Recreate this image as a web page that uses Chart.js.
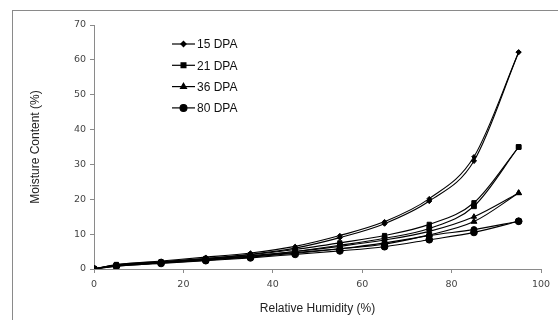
<!DOCTYPE html>
<html>
<head>
<meta charset="utf-8">
<script src="https://cdn.jsdelivr.net/npm/chart.js@4"></script>
<style>
  html, body { margin: 0; padding: 0; background: #fff; }
  #wrap { width: 558px; height: 320px; position: relative; }
</style>
</head>
<body>
<div id="wrap"><canvas id="myChart" width="558" height="320"></canvas></div>
<script>
// relative humidity (%) of each sample point
var rh = [0, 5, 15, 25, 35, 45, 55, 65, 75, 85, 95];
var seriesNames = ['15 DPA', '21 DPA', '36 DPA', '80 DPA'];

// moisture content (%) - adsorption and desorption branch per stage
var dpa15Ads = [0, 1.0, 2.0, 3.0, 4.2, 6.0, 9.0, 13.0, 19.5, 31.0, 62.2];
var dpa15Des = [0, 1.2, 2.3, 3.4, 4.6, 6.5, 9.6, 13.6, 20.2, 32.2, 62.2];
var dpa21Ads = [0, 1.0, 1.8, 2.7, 3.7, 5.0, 6.8, 8.8, 11.6, 18.0, 35.0];
var dpa21Des = [0, 1.3, 2.1, 3.0, 4.1, 5.6, 7.5, 9.6, 12.8, 19.0, 35.0];
var dpa36Ads = [0, 0.8, 1.7, 2.5, 3.4, 4.5, 5.8, 7.5, 9.8, 13.6, 21.8];
var dpa36Des = [0, 1.1, 2.0, 2.8, 3.8, 5.0, 6.5, 8.3, 10.8, 15.0, 21.8];
var dpa80Ads = [0, 0.8, 1.6, 2.4, 3.2, 4.2, 5.2, 6.4, 8.4, 10.5, 13.7];
var dpa80Des = [0, 1.0, 1.9, 2.7, 3.6, 4.7, 5.8, 7.1, 9.6, 11.3, 13.7];

var xTicks = [0, 20, 40, 60, 80, 100];
var yTicks = [0, 10, 20, 30, 40, 50, 60, 70];

function pts(ys) {
  return rh.map(function (x, i) { return { x: x, y: ys[i] }; });
}

function makeSet(label, ys, style, radius, hidden) {
  return {
    label: label,
    data: pts(ys),
    borderColor: '#000',
    backgroundColor: '#000',
    borderWidth: 1.1,
    pointStyle: style,
    pointRadius: radius,
    pointBorderWidth: 1,
    cubicInterpolationMode: 'monotone',
    legendHide: hidden
  };
}

var datasets = [
  makeSet(seriesNames[0], dpa15Ads, 'rectRot', 2.6, false),
  makeSet(seriesNames[1], dpa21Ads, 'rect', 3.4, false),
  makeSet(seriesNames[2], dpa36Ads, 'triangle', 3.4, false),
  makeSet(seriesNames[3], dpa80Ads, 'circle', 3.4, false),
  makeSet(seriesNames[0] + ' des', dpa15Des, 'rectRot', 2.2, true),
  makeSet(seriesNames[1] + ' des', dpa21Des, 'rect', 3.0, true),
  makeSet(seriesNames[2] + ' des', dpa36Des, 'triangle', 3.0, true),
  makeSet(seriesNames[3] + ' des', dpa80Des, 'circle', 3.0, true)
];

// frame around the whole chart + legend drawn inside the plot
var framePlugin = {
  id: 'frame',
  beforeDraw: function (chart) {
    var c = chart.ctx;
    c.save();
    c.fillStyle = '#fff';
    c.fillRect(0, 0, chart.width, chart.height);
    c.strokeStyle = '#8a8a8a';
    c.lineWidth = 1;
    c.strokeRect(12.5, 10.5, 700, 500);
    c.restore();
  },
  afterDraw: function (chart) {
    var c = chart.ctx;
    var x0 = 172, x1 = 195, y = 44, step = 21.3;
    c.save();
    c.font = '12px "Liberation Sans", Arial, sans-serif';
    c.textBaseline = 'middle';
    chart.data.datasets.forEach(function (ds) {
      if (ds.legendHide) return;
      c.strokeStyle = '#000';
      c.lineWidth = 1.2;
      c.beginPath();
      c.moveTo(x0, y);
      c.lineTo(x1, y);
      c.stroke();
      c.fillStyle = '#000';
      Chart.helpers.drawPoint(c, {
        pointStyle: ds.pointStyle, radius: ds.pointRadius, rotation: 0, borderWidth: 1
      }, (x0 + x1) / 2, y);
      c.fillStyle = '#111';
      c.fillText(ds.label, x1 + 2, y + 1);
      y += step;
    });
    c.restore();
  }
};

var ctx = document.getElementById('myChart').getContext('2d');
var chart = new Chart(ctx, {
  type: 'line',
  data: { datasets: datasets },
  plugins: [framePlugin],
  options: {
    responsive: false,
    animation: false,
    layout: { padding: { top: 25, right: 17, left: 0, bottom: 0 } },
    plugins: { legend: { display: false }, tooltip: { enabled: false } },
    scales: {
      x: {
        type: 'linear',
        min: 0, max: 100,
        afterBuildTicks: function (s) { s.ticks = xTicks.map(function (v) { return { value: v }; }); },
        afterFit: function (s) { s.height = 51; },
        grid: { drawOnChartArea: false, color: '#8a8a8a', tickLength: 4 },
        border: { color: '#8a8a8a' },
        ticks: { color: '#444', font: { family: '"DejaVu Sans", Verdana, sans-serif', size: 9.5 }, padding: 6, maxRotation: 0 },
        title: { display: true, text: 'Relative Humidity (%)', color: '#222',
                 font: { family: '"Liberation Sans", Arial, sans-serif', size: 12 }, padding: { top: 6 } }
      },
      y: {
        min: 0, max: 70,
        afterBuildTicks: function (s) { s.ticks = yTicks.map(function (v) { return { value: v }; }); },
        afterFit: function (s) { s.width = 94; },
        grid: { drawOnChartArea: false, color: '#8a8a8a', tickLength: 4 },
        border: { color: '#8a8a8a' },
        ticks: { color: '#444', font: { family: '"DejaVu Sans", Verdana, sans-serif', size: 9.5 }, padding: 4 },
        title: { display: true, text: 'Moisture Content (%)', color: '#222',
                 font: { family: '"Liberation Sans", Arial, sans-serif', size: 12 }, padding: { top: 28, bottom: 0 } }
      }
    }
  }
});
</script>
</body>
</html>
